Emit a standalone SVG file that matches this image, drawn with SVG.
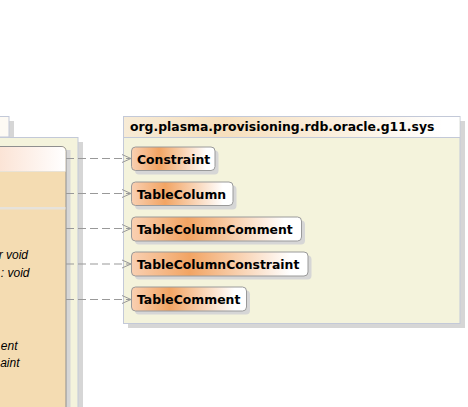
<svg xmlns="http://www.w3.org/2000/svg" width="468" height="407" viewBox="0 0 468 407">
<defs>
<linearGradient id="nodeGrad" x1="0" y1="0" x2="1" y2="0">
<stop offset="0" stop-color="#f9d0b2"/>
<stop offset="0.33" stop-color="#f2a463"/>
<stop offset="0.9" stop-color="#ffffff"/>
<stop offset="1" stop-color="#ffffff"/>
</linearGradient>
<linearGradient id="pkgHead" x1="0" y1="0" x2="1" y2="0">
<stop offset="0" stop-color="#f7ebd6"/>
<stop offset="0.3" stop-color="#f6dfbd"/>
<stop offset="0.95" stop-color="#ffffff"/>
</linearGradient>
<linearGradient id="clsHead" x1="0" y1="0" x2="1" y2="0">
<stop offset="0" stop-color="#fbe0d0"/>
<stop offset="1" stop-color="#ffffff"/>
</linearGradient>
<marker id="open" markerWidth="12" markerHeight="10" refX="10" refY="5" orient="auto" markerUnits="userSpaceOnUse">
<path d="M1,1 L10,5 L1,9" fill="none" stroke="#999999" stroke-width="1"/>
</marker>
</defs>
<style>
.shadow{fill:#d6d6d6;}
.pkg{fill:#f4f3dc;stroke:#c3c9d8;stroke-width:1;}
.node{fill:url(#nodeGrad);stroke:#9a9a9a;stroke-width:1;}
.lbl{font-family:"DejaVu Sans",sans-serif;font-weight:bold;font-size:12.4px;fill:#000;}
.ital{font-family:"Liberation Sans",Arial,sans-serif;font-style:italic;font-size:12px;fill:#000;}
.dep{stroke:#999999;stroke-width:1;stroke-dasharray:8,4;fill:none;marker-end:url(#open);}
</style>
<rect width="468" height="407" fill="#ffffff"/>

<g id="leftPackage">
<rect class="shadow" x="9" y="121" width="5" height="24"/>
<rect x="-10" y="116.5" width="19" height="20.5" fill="#fdfaf4" stroke="#c3c9d8"/>
<rect class="shadow" x="78" y="142" width="5" height="270"/>
<rect class="pkg" x="-10" y="137.5" width="88" height="280"/>
</g>

<g id="leftClass">
<rect class="shadow" x="66" y="150" width="4.5" height="260"/>
<path d="M-10,146.5 H61 Q66,146.5 66,151.5 V420 H-10 Z" fill="#f4dcb2" stroke="#8f8f8f"/>
<path d="M-9.5,147 H61 Q65.5,147 65.5,151.5 V171 H-9.5 Z" fill="url(#clsHead)"/>
<line x1="-10" y1="171.5" x2="65.5" y2="171.5" stroke="#e8e2d6" stroke-width="1"/>
<rect x="0" y="207" width="65.5" height="2.5" fill="#e6e2da"/>
<text class="ital" x="28" y="259" text-anchor="end">r void</text>
<text class="ital" x="29.5" y="277" text-anchor="end">: void</text>
<text class="ital" x="17.5" y="350" text-anchor="end">ent</text>
<text class="ital" x="19.5" y="367" text-anchor="end">aint</text>
</g>

<g id="sysPackage">
<rect class="shadow" x="128" y="121" width="337" height="207"/>
<rect class="pkg" x="123.5" y="116.5" width="336.5" height="207"/>
<rect x="124" y="117" width="335.5" height="20" fill="url(#pkgHead)"/>
<line x1="123.5" y1="137.5" x2="460" y2="137.5" stroke="#c3c9d8"/>
<text class="lbl" x="130" y="131">org.plasma.provisioning.rdb.oracle.g11.sys</text>
</g>

<g id="connectors">
<line class="dep" x1="66" y1="158.5" x2="131" y2="158.5"/>
<line class="dep" x1="66" y1="193.5" x2="131" y2="193.5"/>
<line class="dep" x1="66" y1="228.5" x2="131" y2="228.5"/>
<line class="dep" x1="66" y1="264" x2="131" y2="264"/>
<line class="dep" x1="66" y1="299.5" x2="131" y2="299.5"/>
</g>

<g id="Constraint">
<rect class="shadow" x="135" y="150.5" width="83.5" height="24" rx="4"/>
<rect class="node" x="131.5" y="147" width="83.5" height="23.5" rx="4"/>
<text class="lbl" x="137" y="164">Constraint</text>
</g>
<g id="TableColumn">
<rect class="shadow" x="135" y="185.5" width="101.5" height="24" rx="4"/>
<rect class="node" x="131.5" y="182" width="101.5" height="23.5" rx="4"/>
<text class="lbl" x="137" y="199">TableColumn</text>
</g>
<g id="TableColumnComment">
<rect class="shadow" x="135" y="220.5" width="170" height="24" rx="4"/>
<rect class="node" x="131.5" y="217" width="170" height="24" rx="4"/>
<text class="lbl" x="137" y="234">TableColumnComment</text>
</g>
<g id="TableColumnConstraint">
<rect class="shadow" x="135" y="255.5" width="176.5" height="24" rx="4"/>
<rect class="node" x="131.5" y="252" width="176.5" height="24" rx="4"/>
<text class="lbl" x="137" y="269">TableColumnConstraint</text>
</g>
<g id="TableComment">
<rect class="shadow" x="135" y="290.5" width="115" height="24" rx="4"/>
<rect class="node" x="131.5" y="287" width="115" height="24" rx="4"/>
<text class="lbl" x="137" y="304">TableComment</text>
</g>
</svg>
